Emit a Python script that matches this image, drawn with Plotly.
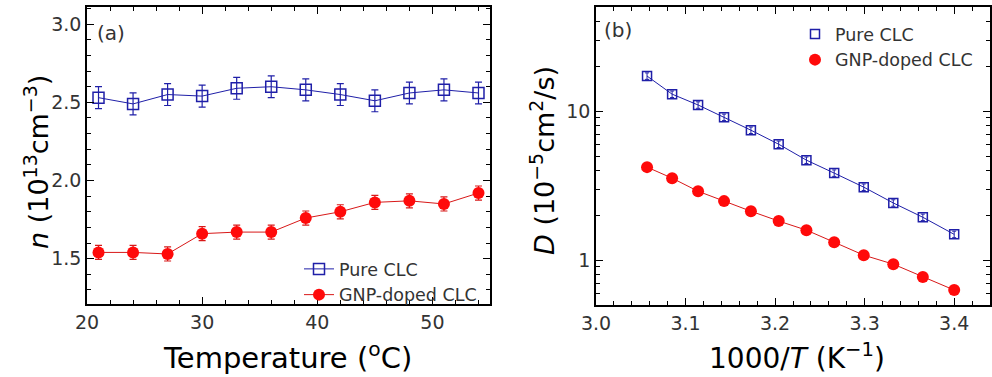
import plotly.graph_objects as go

# ---------------- data ----------------
temp_c = [21, 24, 27, 30, 33, 36, 39, 42, 45, 48, 51, 54]
n_pure = [2.53, 2.49, 2.55, 2.54, 2.59, 2.60, 2.58, 2.55, 2.51, 2.56, 2.58, 2.56]
n_pure_err = [0.07] * 12
n_gnp = [1.54, 1.54, 1.53, 1.66, 1.67, 1.67, 1.76, 1.80, 1.86, 1.87, 1.85, 1.92]
n_gnp_err = [0.045] * 12

inv_t = [3.057, 3.085, 3.114, 3.143, 3.173, 3.204, 3.235, 3.266, 3.299, 3.332, 3.365, 3.400]
d_pure = [17.2, 13.0, 11.0, 9.1, 7.45, 6.0, 4.69, 3.84, 3.09, 2.42, 1.94, 1.49]
d_gnp = [4.21, 3.55, 2.90, 2.49, 2.13, 1.83, 1.59, 1.32, 1.08, 0.94, 0.77, 0.63]
d_pure_err = [v * 0.05 for v in d_pure]

BLUE = "#1f1fa8"
RED = "#ff0a0a"
REDLINE = "#d81818"
FONT = "DejaVu Sans, Verdana, sans-serif"
TICKC = "#333333"

fig = go.Figure()

# panel (a)
fig.add_trace(go.Scatter(
    x=temp_c, y=n_pure, mode="lines+markers", name="Pure CLC",
    line=dict(color=BLUE, width=1),
    marker=dict(symbol="square-open", size=11, color=BLUE, line=dict(width=1.5, color=BLUE)),
    error_y=dict(type="data", array=n_pure_err, color=BLUE, thickness=1.2, width=3.5),
    xaxis="x", yaxis="y", legend="legend"))
fig.add_trace(go.Scatter(
    x=temp_c, y=n_gnp, mode="lines+markers", name="GNP-doped CLC",
    line=dict(color=REDLINE, width=1),
    marker=dict(symbol="circle", size=12, color=RED, line=dict(width=0)),
    error_y=dict(type="data", array=n_gnp_err, color=REDLINE, thickness=1.2, width=3.5),
    xaxis="x", yaxis="y", legend="legend"))

# panel (b)
fig.add_trace(go.Scatter(
    x=inv_t, y=d_pure, mode="lines", showlegend=False,
    line=dict(color=BLUE, width=1), xaxis="x2", yaxis="y2"))
fig.add_trace(go.Scatter(
    x=inv_t, y=d_gnp, mode="lines", showlegend=False,
    line=dict(color=REDLINE, width=1), xaxis="x2", yaxis="y2"))
fig.add_trace(go.Scatter(
    x=inv_t, y=d_pure, mode="markers", name="Pure CLC",
    marker=dict(symbol="square-open", size=9, color=BLUE, line=dict(width=1.5, color=BLUE)),
    error_y=dict(type="data", array=d_pure_err, color=BLUE, thickness=1, width=2),
    xaxis="x2", yaxis="y2", legend="legend2"))
fig.add_trace(go.Scatter(
    x=inv_t, y=d_gnp, mode="markers", name="GNP-doped CLC",
    marker=dict(symbol="circle", size=12, color=RED, line=dict(width=0)),
    xaxis="x2", yaxis="y2", legend="legend2"))

W, H = 992, 377
axcommon = dict(showline=True, linecolor="black", linewidth=1.5, mirror="allticks",
                ticks="inside", ticklen=7, tickwidth=1.3, tickcolor="black",
                showgrid=False, zeroline=False, automargin=False,
                tickfont=dict(family=FONT, size=19, color=TICKC))
minorc = dict(ticks="inside", ticklen=4, tickwidth=1, tickcolor="black")

fig.update_layout(
    width=W, height=H, margin=dict(l=0, r=0, t=0, b=0, autoexpand=False),
    paper_bgcolor="white", plot_bgcolor="white",
    font=dict(family=FONT, color=TICKC),
    xaxis=dict(domain=[87 / W, 490 / W], range=[20, 55], dtick=10, anchor="y",
               minor=dict(dtick=2, **minorc), **axcommon),
    yaxis=dict(domain=[1 - 304 / H, 1 - 7 / H], range=[1.21, 3.11], dtick=0.5, tickformat=".1f",
               anchor="x", minor=dict(dtick=0.1, **minorc), **axcommon),
    xaxis2=dict(domain=[596 / W, 990 / W], range=[3.0, 3.44], dtick=0.1, tickformat=".1f", anchor="y2",
                minor=dict(dtick=0.02, **minorc), **axcommon),
    yaxis2=dict(domain=[1 - 305 / H, 1 - 7 / H], type="log", range=[-0.301, 1.699],
                tickvals=[1, 10], ticktext=["1", "10"], anchor="x2",
                minor=dict(dtick="D1", **minorc), **axcommon),
    legend=dict(x=299 / W, y=1 - 251 / H, xanchor="left", yanchor="top",
                bgcolor="rgba(0,0,0,0)", tracegroupgap=0,
                font=dict(family=FONT, size=17.5, color=TICKC)),
    legend2=dict(x=795 / W, y=1 - 16 / H, xanchor="left", yanchor="top",
                 bgcolor="rgba(0,0,0,0)",
                 font=dict(family=FONT, size=17.5, color=TICKC)),
    showlegend=True,
)

ann = []
ann.append(dict(text="(a)", x=95 / W, y=1 - 33 / H, xref="paper", yref="paper",
                xanchor="left", yanchor="middle", showarrow=False,
                font=dict(family=FONT, size=20, color=TICKC)))
ann.append(dict(text="(b)", x=602 / W, y=1 - 30 / H, xref="paper", yref="paper",
                xanchor="left", yanchor="middle", showarrow=False,
                font=dict(family=FONT, size=20, color=TICKC)))
ann.append(dict(text="Temperature (<sup>o</sup>C)", x=287 / W, y=1 - 356 / H, xref="paper", yref="paper",
                xanchor="center", yanchor="middle", showarrow=False,
                font=dict(family=FONT, size=29, color="black")))
ann.append(dict(text="1000/<i>T</i> (K<sup>−1</sup>)", x=797 / W, y=1 - 356 / H, xref="paper", yref="paper",
                xanchor="center", yanchor="middle", showarrow=False,
                font=dict(family=FONT, size=28, color="black")))
ann.append(dict(text="<i>n</i> (10<sup>13</sup>cm<sup>−3</sup>)", x=36 / W, y=1 - 162 / H, xref="paper", yref="paper",
                xanchor="center", yanchor="middle", showarrow=False, textangle=-90,
                font=dict(family=FONT, size=27, color="black")))
ann.append(dict(text="<i>D</i> (10<sup>−5</sup>cm<sup>2</sup>/s)", x=542 / W, y=1 - 161 / H, xref="paper", yref="paper",
                xanchor="center", yanchor="middle", showarrow=False, textangle=-90,
                font=dict(family=FONT, size=27, color="black")))
fig.update_layout(annotations=ann)

fig.write_html("out.html")
